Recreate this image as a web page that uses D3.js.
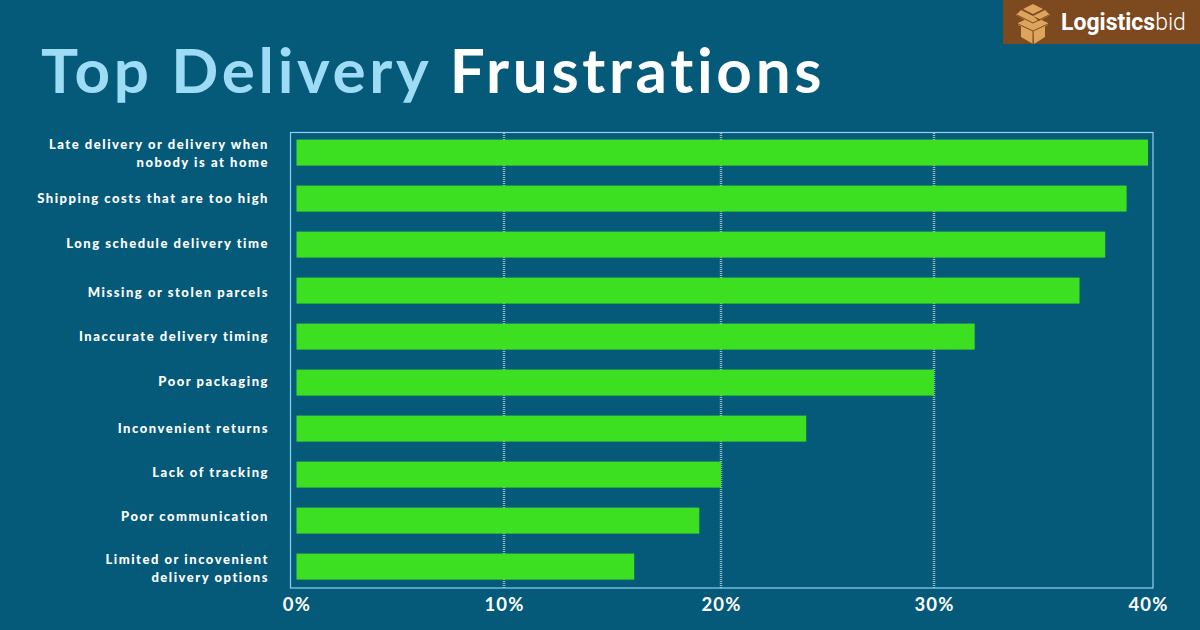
<!DOCTYPE html>
<html><head><meta charset="utf-8">
<style>html,body{margin:0;padding:0;background:#055a7a}svg{display:block}</style>
<script src="https://cdn.jsdelivr.net/npm/d3@7/dist/d3.min.js"></script></head>
<body><svg id="c" width="1200" height="630"></svg>
<script>
const categories=[["Late delivery or delivery when","nobody is at home"],["Shipping costs that are too high"],["Long schedule delivery time"],["Missing or stolen parcels"],["Inaccurate delivery timing"],["Poor packaging"],["Inconvenient returns"],["Lack of tracking"],["Poor communication"],["Limited or incovenient","delivery options"]];
const values=[40,39,38,36.8,31.9,30,24,20,19,16];
const tickValues=[0,10,20,30,40];
const titleParts=["Top Delivery","Frustrations"];
const logoParts=["Logistics","bid"];

const svg=d3.select("#c");
const font="Lato,'Noto Sans',sans-serif";
svg.append("rect").attr("width",1200).attr("height",630).attr("fill","#055a7a");

const x=d3.scaleLinear().domain(tickValues).range([296.5,504,721,934,1148]);
const y=d3.scaleBand().domain(d3.range(categories.length)).range([129.6,589.6]).paddingInner(0.435).paddingOuter(0.2175);

// title
const t=svg.append("text").attr("x",41).attr("y",92.5).attr("font-family",font).attr("font-weight",700).attr("font-size",62).attr("letter-spacing",3.68);
t.append("tspan").attr("fill","#9edbf5").text(titleParts[0]+" ");
t.append("tspan").attr("fill","#ffffff").text(titleParts[1]);

// grid
svg.append("g").selectAll("line").data(tickValues.slice(1,4)).join("line")
 .attr("x1",d=>x(d)).attr("x2",d=>x(d)).attr("y1",133).attr("y2",588)
 .attr("stroke","#9db8c4").attr("stroke-width",2.5).attr("stroke-dasharray","1 1");

// frame
svg.append("rect").attr("x",290.5).attr("y",132.5).attr("width",862.5).attr("height",455.5)
 .attr("fill","none").attr("stroke","#8fd0ec").attr("stroke-width",1.2);

// bars
svg.append("g").selectAll("rect").data(values).join("rect")
 .attr("x",x(0)).attr("y",(d,i)=>y(i)).attr("width",d=>x(d)-x(0)).attr("height",y.bandwidth())
 .attr("fill","#3ce021");

// category labels
const nudge=[1,0,-1,2,0,-1,0,-2,-4,2];
const lab=svg.append("g").attr("font-family",font).attr("font-weight",900).attr("font-size",13).attr("letter-spacing",1.53).attr("fill","#ffffff").attr("text-anchor","end");
categories.forEach((lines,i)=>{
  const cy=y(i)+y.bandwidth()/2+nudge[i];
  lines.forEach((s,j)=>{
    lab.append("text").attr("x",269).attr("y",cy+4.5+(j-(lines.length-1)/2)*17.5).text(s);
  });
});

// x axis
const axis=d3.axisBottom(x).tickValues(tickValues).tickFormat(d=>d+"%").tickSize(0);
const ax=svg.append("g").attr("transform","translate(0,592)").call(axis);
ax.select(".domain").remove();
ax.selectAll("text").attr("fill","#fff").attr("font-family",font).attr("font-weight",700).attr("font-size",18.5).attr("letter-spacing",1.2).attr("y",6).attr("dy","0.71em");

// logo
svg.append("rect").attr("x",1003).attr("y",0).attr("width",197).attr("height",44).attr("fill","#7d4a20");
const b=svg.append("g").attr("transform","translate(1033,21)");
const tan="#dca45c";
b.append("path").attr("fill",tan).attr("d","M-12,2 L0,9 L0,23 L-12,16 Z M12,2 L0,9 L1,23 L12,16 Z");
b.append("path").attr("fill",tan).attr("d","M0,-5 L-12,-11 L-17,-6 L-6,0 Z M0,-5 L12,-11 L17,-6 L6,0 Z M0,-17 L-10,-12 L0,-7 L10,-12 Z M0,-5 L-15,2 L-15,4 L0,11 L15,4 L15,2 Z");
b.append("path").attr("fill","none").attr("stroke","#7d4a20").attr("stroke-width",1).attr("d","M-16,-6 L0,2 L16,-6 M-15,3 L0,10 L15,3 M0,10 L0,23");
const lt=svg.append("text").attr("x",1061).attr("y",30).attr("font-family","Roboto,sans-serif").attr("font-size",23).attr("fill","#fff");
lt.append("tspan").attr("font-weight",700).text(logoParts[0]);
lt.append("tspan").attr("font-weight",300).text(logoParts[1]);
</script></body></html>
